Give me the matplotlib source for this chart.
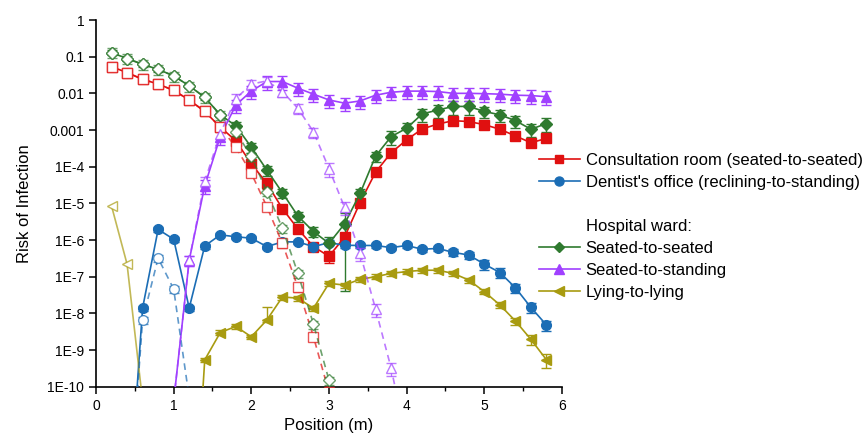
import numpy as np
import matplotlib
matplotlib.use('Agg')
import matplotlib.pyplot as plt
from matplotlib.lines import Line2D
from matplotlib.colors import to_rgba
from matplotlib.ticker import FixedLocator, FixedFormatter

plt.rcParams['font.family'] = ['Liberation Sans', 'DejaVu Sans']

# positions (m)
x_red = [0.2, 0.4, 0.6, 0.8, 1.0, 1.2, 1.4, 1.6, 1.8, 2.0, 2.2, 2.4, 2.6, 2.8, 3.0,
         3.2, 3.4, 3.6, 3.8, 4.0, 4.2, 4.4, 4.6, 4.8, 5.0, 5.2, 5.4, 5.6, 5.8]
x_red_d = [0.2, 0.4, 0.6, 0.8, 1.0, 1.2, 1.4, 1.6, 1.8, 2.0, 2.2, 2.4, 2.6, 2.8, 3.0]
x_purple = [1.0, 1.2, 1.4, 1.6, 1.8, 2.0, 2.2, 2.4, 2.6, 2.8, 3.0, 3.2, 3.4, 3.6, 3.8,
            4.0, 4.2, 4.4, 4.6, 4.8, 5.0, 5.2, 5.4, 5.6, 5.8]
x_purple_d = [1.0, 1.2, 1.4, 1.6, 1.8, 2.0, 2.2, 2.4, 2.6, 2.8, 3.0, 3.2, 3.4, 3.6, 3.8, 4.0]
x_blue = [0.4, 0.6, 0.8, 1.0, 1.2, 1.4, 1.6, 1.8, 2.0, 2.2, 2.4, 2.6, 2.8, 3.0, 3.2,
          3.4, 3.6, 3.8, 4.0, 4.2, 4.4, 4.6, 4.8, 5.0, 5.2, 5.4, 5.6, 5.8]
x_blue_d = [0.4, 0.6, 0.8, 1.0, 1.2]
x_olive = [1.2, 1.4, 1.6, 1.8, 2.0, 2.2, 2.4, 2.6, 2.8, 3.0, 3.2, 3.4, 3.6, 3.8, 4.0,
           4.2, 4.4, 4.6, 4.8, 5.0, 5.2, 5.4, 5.6, 5.8]
x_olive_d = [0.2, 0.4, 0.6]

# risk of infection, solid series (filled markers)
consult = [5.3e-2, 3.7e-2, 2.4e-2, 1.8e-2, 1.2e-2, 6.6e-3, 3.2e-3, 1.2e-3, 5.1e-4, 1.2e-4,
           3.5e-5, 7.2e-6, 2.0e-6, 6.6e-7, 3.6e-7, 1.2e-6, 1.05e-5, 7.1e-5, 2.4e-4, 5.4e-4,
           1.07e-3, 1.45e-3, 1.8e-3, 1.7e-3, 1.4e-3, 1.05e-3, 6.9e-4, 4.5e-4, 5.9e-4]
dentist = [1e-14, 1.4e-8, 1.95e-6, 1.05e-6, 1.4e-8, 6.9e-7, 1.38e-6, 1.23e-6, 1.12e-6, 6.6e-7,
           8.9e-7, 8.9e-7, 6.6e-7, 8.5e-7, 7.2e-7, 7.1e-7, 7.1e-7, 6.2e-7, 7.1e-7, 5.6e-7,
           5.9e-7, 4.6e-7, 3.9e-7, 2.2e-7, 1.3e-7, 5.0e-8, 1.45e-8, 4.8e-9]
ward_seated = [0.129, 0.089, 0.062, 0.045, 0.030, 0.016, 7.8e-3, 2.6e-3, 1.3e-3, 3.4e-4,
               8.1e-5, 1.95e-5, 4.5e-6, 1.7e-6, 8.1e-7, 2.75e-6, 1.86e-5, 1.95e-4, 6.6e-4, 1.12e-3,
               2.75e-3, 3.5e-3, 4.4e-3, 4.4e-3, 3.2e-3, 2.6e-3, 1.8e-3, 1.05e-3, 1.5e-3]
ward_standing = [4e-11, 2.8e-7, 3.0e-5, 6.6e-4, 4.8e-3, 0.0115, 0.021, 0.021, 0.0138, 9.5e-3,
                 6.6e-3, 5.4e-3, 6.2e-3, 8.9e-3, 0.0107, 0.0115, 0.0115, 0.0112, 0.0100, 0.0100,
                 0.0098, 0.0095, 0.0089, 0.0087, 0.0081]
ward_lying = [1e-16, 5.4e-10, 3.0e-9, 4.4e-9, 2.3e-9, 6.6e-9, 2.8e-8, 2.6e-8, 1.38e-8, 6.6e-8,
              5.9e-8, 8.5e-8, 1.0e-7, 1.23e-7, 1.38e-7, 1.5e-7, 1.5e-7, 1.23e-7, 8.1e-8, 3.9e-8,
              1.7e-8, 6.2e-9, 1.95e-9, 5.4e-10]

# dashed series (open markers)
consult_d = [5.3e-2, 3.7e-2, 2.4e-2, 1.8e-2, 1.2e-2, 6.6e-3, 3.2e-3, 1.2e-3, 3.4e-4, 6.6e-5,
             8.1e-6, 8.1e-7, 5.1e-8, 2.3e-9, 7e-11]
dentist_d = [1e-14, 6.6e-9, 3.2e-7, 4.6e-8, 5e-11]
ward_seated_d = [0.129, 0.089, 0.062, 0.045, 0.030, 0.016, 7.8e-3, 2.6e-3, 8.9e-4, 1.9e-4,
                 2.1e-5, 2.1e-6, 1.23e-7, 5.1e-9, 1.5e-10]
ward_standing_d = [4e-11, 2.8e-7, 4.0e-5, 8e-4, 7.2e-3, 0.0178, 0.0219, 0.0112, 3.9e-3, 8.9e-4,
                   8.9e-5, 7.8e-6, 4.4e-7, 1.3e-8, 3.2e-10, 3e-12]
ward_lying_d = [8.5e-6, 2.2e-7, 4e-11]

# relative errors (upper; lower is the same unless a separate list is given)
consult_err = [0.15, 0.15, 0.15, 0.15, 0.15, 0.15, 0.15, 0.15, 0.2, 0.3, 0.3, 0.2, 0.2, 0.2, 0.35,
               0.3, 0.2, 0.2, 0.15, 0.15, 0.15, 0.15, 0.15, 0.15, 0.15, 0.15, 0.15, 0.15, 0.15]
dentist_err = [0, 0.15, 0.15, 0.15, 0.15, 0.15, 0.15, 0.15, 0.15, 0.15, 0.15, 0.15, 0.15, 0.15,
               0.15, 0.15, 0.15, 0.15, 0.15, 0.15, 0.15, 0.2, 0.2, 0.3, 0.3, 0.3, 0.3, 0.3]
ward_seated_err = [0.15, 0.15, 0.15, 0.15, 0.15, 0.15, 0.15, 0.15, 0.3, 0.3, 0.3, 0.3, 0.3, 0.3,
                   0.5, 0.985, 0.3, 0.3, 0.4, 0.4, 0.4, 0.4, 0.4, 0.4, 0.35, 0.35, 0.35, 0.4, 0.4]
ward_standing_err = [0, 0.3, 0.4, 0.4, 0.4, 0.4, 0.4, 0.4, 0.4, 0.4, 0.4, 0.4, 0.4, 0.4, 0.4,
                     0.4, 0.4, 0.4, 0.4, 0.4, 0.4, 0.4, 0.4, 0.4, 0.4]
ward_lying_err = [0, 0.15, 0.15, 0.15, 0.15, 1.2, 0.15, 0.15, 0.15, 0.15, 0.15, 0.15, 0.15, 0.15,
                  0.15, 0.15, 0.15, 0.15, 0.15, 0.15, 0.2, 0.2, 0.3, 0.4]
ward_lying_err_lo = [0, 0.15, 0.15, 0.15, 0.15, 0.1, 0.15, 0.15, 0.15, 0.15, 0.15, 0.15, 0.15, 0.15,
                     0.15, 0.15, 0.15, 0.15, 0.15, 0.15, 0.2, 0.2, 0.3, 0.4]
consult_d_err = [0.15, 0.15, 0.15, 0.15, 0.15, 0.15, 0.15, 0.15, 0.2, 0.2, 0.2, 0.25, 0.25, 0.25, 0.2]
dentist_d_err = [0, 0.2, 0.2, 0.2, 0]
ward_seated_d_err = [0.3, 0.3, 0.3, 0.3, 0.3, 0.3, 0.3, 0.3, 0.25, 0.25, 0.25, 0.25, 0.25, 0.25, 0.25]
ward_standing_d_err = [0, 0.3, 0.3, 0.3, 0.3, 0.3, 0.3, 0.3, 0.3, 0.3, 0.4, 0.4, 0.4, 0.4, 0.4, 0]

RED = '#E01010'
BLUE = '#1B6DB5'
GREEN = '#2F7A2F'
PURPLE = '#A040FF'
OLIVE = '#A89B10'

fig = plt.figure(figsize=(8.68, 4.37), dpi=100)
ax = fig.add_axes([96 / 868, 1 - 386.7 / 437, 466 / 868, 366.7 / 437])


def draw(x, y, r, color, marker, dashed=False, ms=6.5, r_lo=None):
    y = np.array(y)
    r = np.array(r)
    lo = y * np.array(r if r_lo is None else r_lo)
    hi = y * r
    if dashed:
        c = to_rgba(color, 0.7)
        ax.errorbar(x, y, yerr=[lo, hi], color=c, ecolor=c, marker=marker, ms=ms,
                    mfc='white', mec=c, mew=1.0, lw=1.2, ls=(0, (4, 3)),
                    elinewidth=0.9, capsize=3.5, capthick=0.9, zorder=4)
    else:
        ax.errorbar(x, y, yerr=[lo, hi], color=color, marker=marker, ms=ms,
                    mfc=color, mec=color, lw=1.2, elinewidth=1.0, capsize=3.5,
                    capthick=1.0, zorder=3)


draw(x_red, consult, consult_err, RED, 's')
draw(x_blue, dentist, dentist_err, BLUE, 'o', ms=7)
draw(x_red, ward_seated, ward_seated_err, GREEN, 'D', ms=6)
draw(x_purple, ward_standing, ward_standing_err, PURPLE, '^', ms=7)
draw(x_olive, ward_lying, ward_lying_err, OLIVE, '<', ms=7, r_lo=ward_lying_err_lo)

draw(x_red_d, consult_d, consult_d_err, RED, 's', dashed=True)
draw(x_blue_d, dentist_d, dentist_d_err, BLUE, 'o', dashed=True, ms=7)
draw(x_red_d, ward_seated_d, ward_seated_d_err, GREEN, 'D', dashed=True, ms=6)
draw(x_purple_d, ward_standing_d, ward_standing_d_err, PURPLE, '^', dashed=True, ms=7)
# lying-to-lying open series drawn with a thin line
oc = to_rgba(OLIVE, 0.7)
ax.plot(x_olive_d, ward_lying_d, color=oc, marker='<', ms=7, mfc='white', mec=oc,
        lw=1.2, zorder=4)

ax.set_yscale('log')
ax.set_xlim(0, 6)
ax.set_ylim(1e-10, 1)

yticks = [1e-10, 1e-9, 1e-8, 1e-7, 1e-6, 1e-5, 1e-4, 1e-3, 1e-2, 1e-1, 1]
ylabels = ['1E-10', '1E-9', '1E-8', '1E-7', '1E-6', '1E-5', '1E-4', '0.001', '0.01', '0.1', '1']
ax.yaxis.set_major_locator(FixedLocator(yticks))
ax.yaxis.set_major_formatter(FixedFormatter(ylabels))
ax.yaxis.set_minor_locator(FixedLocator([]))
ax.set_xticks([0, 1, 2, 3, 4, 5, 6])
ax.set_xticks([0.5, 1.5, 2.5, 3.5, 4.5, 5.5], minor=True)

ax.spines['top'].set_visible(False)
ax.spines['right'].set_visible(False)
ax.spines['left'].set_linewidth(1.2)
ax.spines['bottom'].set_linewidth(1.2)
ax.tick_params(which='major', direction='out', length=5, width=1.1, labelsize=10)
ax.tick_params(which='minor', direction='out', length=3, width=1.0)

ax.set_xlabel('Position (m)', fontsize=12, labelpad=4)
ax.set_ylabel('Risk of Infection', fontsize=12, labelpad=11)

handles = [
    Line2D([], [], color=RED, marker='s', ms=6, lw=1.2),
    Line2D([], [], color=BLUE, marker='o', ms=6.5, lw=1.2),
    Line2D([], [], color='none'),
    Line2D([], [], color='none'),
    Line2D([], [], color=GREEN, marker='D', ms=5.5, lw=1.2),
    Line2D([], [], color=PURPLE, marker='^', ms=6.5, lw=1.2),
    Line2D([], [], color=OLIVE, marker='<', ms=6.5, lw=1.2),
]
labels = ['Consultation room (seated-to-seated)', "Dentist's office (reclining-to-standing)",
          ' ', 'Hospital ward:', 'Seated-to-seated', 'Seated-to-standing', 'Lying-to-lying']
fig.legend(handles, labels, loc='upper left', bbox_to_anchor=(539 / 868, 1 - 153 / 437),
           frameon=False, fontsize=12, handlelength=2.45, handletextpad=0.35,
           labelspacing=0.42, borderpad=0, borderaxespad=0)

fig.savefig('out.png', dpi=100)
